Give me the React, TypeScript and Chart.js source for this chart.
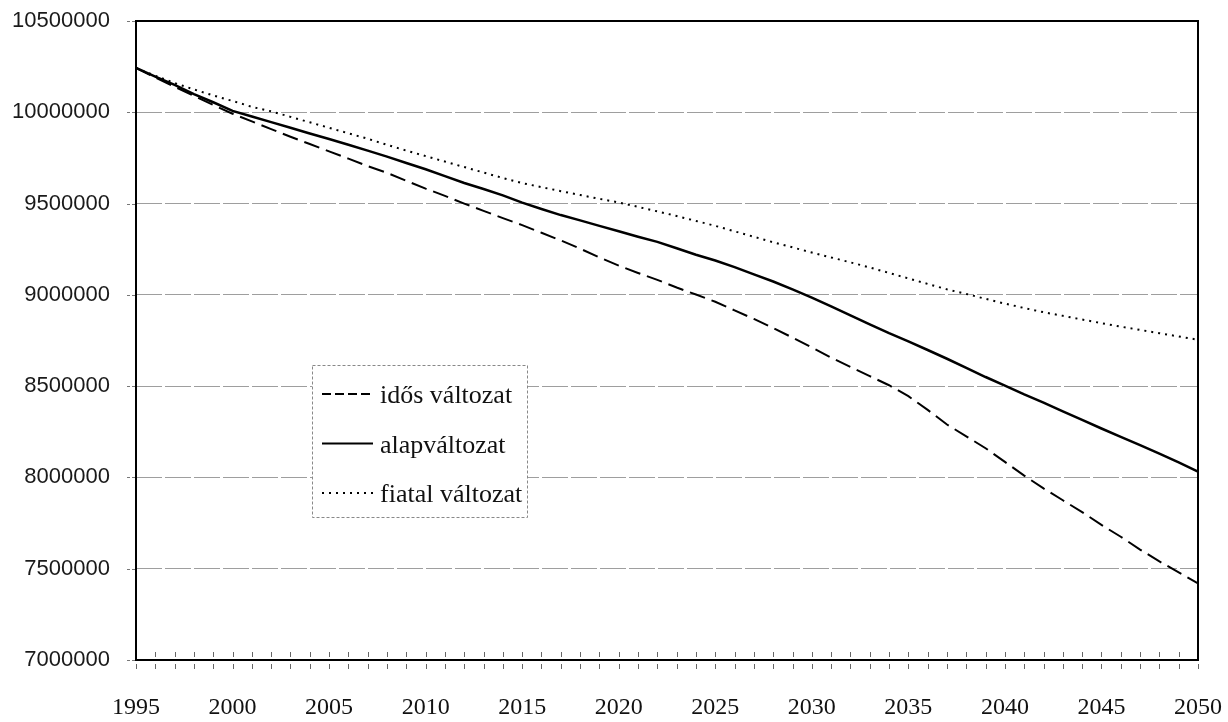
import React, { useEffect, useRef } from "react";
import { Chart, registerables } from "chart.js";

Chart.register(...registerables);

const YEARS = [
  1995, 1996, 1997, 1998, 1999, 2000, 2001, 2002, 2003, 2004,
  2005, 2006, 2007, 2008, 2009, 2010, 2011, 2012, 2013, 2014,
  2015, 2016, 2017, 2018, 2019, 2020, 2021, 2022, 2023, 2024,
  2025, 2026, 2027, 2028, 2029, 2030, 2031, 2032, 2033, 2034,
  2035, 2036, 2037, 2038, 2039, 2040, 2041, 2042, 2043, 2044,
  2045, 2046, 2047, 2048, 2049, 2050,
];

// idős változat (dashed)
const IDOS = [
  10243000, 10190000, 10140000, 10090000, 10040000, 9992000, 9950000, 9908000, 9866000, 9826000,
  9786000, 9746000, 9705000, 9668000, 9625000, 9582000, 9542000, 9500000, 9460000, 9420000,
  9382000, 9340000, 9298000, 9253000, 9205000, 9160000, 9120000, 9082000, 9040000, 9002000,
  8962000, 8915000, 8868000, 8818000, 8766000, 8712000, 8656000, 8605000, 8555000, 8505000,
  8445000, 8370000, 8290000, 8225000, 8160000, 8085000, 8010000, 7940000, 7875000, 7810000,
  7740000, 7675000, 7605000, 7540000, 7480000, 7420000,
];

// alapváltozat (solid)
const ALAP = [
  10243000, 10195000, 10150000, 10100000, 10055000, 10008000, 9977000, 9946000, 9915000, 9884000,
  9854000, 9822000, 9790000, 9757000, 9722000, 9688000, 9650000, 9613000, 9580000, 9545000,
  9505000, 9470000, 9437000, 9408000, 9378000, 9348000, 9318000, 9290000, 9255000, 9220000,
  9188000, 9152000, 9112000, 9073000, 9030000, 8985000, 8937000, 8888000, 8838000, 8790000,
  8745000, 8698000, 8650000, 8600000, 8550000, 8503000, 8455000, 8410000, 8362000, 8315000,
  8268000, 8222000, 8177000, 8130000, 8082000, 8032000,
];

// fiatal változat (dotted)
const FIATAL = [
  10243000, 10200000, 10160000, 10125000, 10092000, 10062000, 10030000, 10005000, 9975000, 9945000,
  9915000, 9885000, 9855000, 9822000, 9790000, 9760000, 9730000, 9700000, 9670000, 9640000,
  9612000, 9590000, 9568000, 9547000, 9526000, 9506000, 9482000, 9457000, 9432000, 9405000,
  9378000, 9348000, 9318000, 9288000, 9260000, 9232000, 9205000, 9178000, 9150000, 9120000,
  9090000, 9060000, 9030000, 9005000, 8978000, 8952000, 8928000, 8905000, 8885000, 8865000,
  8845000, 8826000, 8808000, 8790000, 8772000, 8754000,
];

const SERIES_LABELS = ["idős változat", "alapváltozat", "fiatal változat"];

const Y_MIN = 7000000;
const Y_MAX = 10500000;
const Y_STEP = 500000;
const X_MIN = 1995;
const X_MAX = 2050;
const X_STEP = 5;

const LINE_DASH = [16, 7];
const LINE_DOT = [2, 5];
const LEGEND_DASH = [9, 4];
const LEGEND_DOT = [2, 5];

const toPoints = (vals: number[]) => YEARS.map((yr, i) => ({ x: yr, y: vals[i] }));

const overlayPlugin = {
  id: "frameTicksLegend",
  afterDatasetsDraw(chart: any) {
    const { ctx, chartArea: a, scales } = chart;
    const xs = scales.x;
    const ys = scales.y;
    ctx.save();

    // yearly tick marks crossing the x axis
    ctx.strokeStyle = "#666";
    ctx.lineWidth = 1;
    ctx.setLineDash([]);
    for (const yr of YEARS) {
      const px = Math.round(xs.getPixelForValue(yr)) + 0.5;
      ctx.beginPath();
      ctx.moveTo(px, a.bottom - 8);
      ctx.lineTo(px, a.bottom - 3);
      ctx.moveTo(px, a.bottom + 4);
      ctx.lineTo(px, a.bottom + 9);
      ctx.stroke();
    }

    // y tick marks left of the axis
    ctx.strokeStyle = "#777";
    ctx.setLineDash([3, 2]);
    for (const t of ys.ticks) {
      const py = Math.round(ys.getPixelForValue(t.value)) + 0.5;
      ctx.beginPath();
      ctx.moveTo(a.left - 9, py);
      ctx.lineTo(a.left - 1, py);
      ctx.stroke();
    }

    // plot frame
    ctx.setLineDash([]);
    ctx.strokeStyle = "#000";
    ctx.lineWidth = 2;
    ctx.strokeRect(a.left, a.top, a.right - a.left, a.bottom - a.top);

    // legend box
    const bx = a.left + 176;
    const by = a.top + 344;
    const bw = 215;
    const bh = 152;
    ctx.fillStyle = "#fff";
    ctx.fillRect(bx, by, bw, bh);
    ctx.strokeStyle = "#888";
    ctx.lineWidth = 1;
    ctx.setLineDash([3, 2]);
    ctx.strokeRect(bx + 0.5, by + 0.5, bw, bh);

    const dashes = [LEGEND_DASH, [], LEGEND_DOT];
    const rows = [by + 29, by + 78.5, by + 128];
    ctx.font = "26px 'Liberation Serif', serif";
    ctx.textAlign = "left";
    ctx.textBaseline = "alphabetic";
    SERIES_LABELS.forEach((label, i) => {
      const ry = rows[i];
      ctx.strokeStyle = "#000";
      ctx.lineWidth = 2;
      ctx.setLineDash(dashes[i]);
      ctx.beginPath();
      ctx.moveTo(bx + 10, ry);
      ctx.lineTo(bx + 61, ry);
      ctx.stroke();
      ctx.fillStyle = "#111";
      ctx.fillText(label, bx + 68, ry + 9);
    });
    ctx.restore();
  },
};

export default function App() {
  const canvasRef = useRef<HTMLCanvasElement | null>(null);

  useEffect(() => {
    if (!canvasRef.current) return;
    const chart = new Chart(canvasRef.current, {
      type: "line",
      data: {
        datasets: [
          {
            label: SERIES_LABELS[0],
            data: toPoints(IDOS),
            borderColor: "#000",
            borderWidth: 2,
            borderDash: LINE_DASH,
            pointRadius: 0,
            tension: 0,
            fill: false,
          },
          {
            label: SERIES_LABELS[1],
            data: toPoints(ALAP),
            borderColor: "#000",
            borderWidth: 2.5,
            pointRadius: 0,
            tension: 0,
            fill: false,
          },
          {
            label: SERIES_LABELS[2],
            data: toPoints(FIATAL),
            borderColor: "#000",
            borderWidth: 2,
            borderDash: LINE_DOT,
            pointRadius: 0,
            tension: 0,
            fill: false,
          },
        ],
      },
      options: {
        animation: false,
        responsive: true,
        maintainAspectRatio: false,
        layout: { padding: { left: 0, right: 30, top: 21, bottom: 0 } },
        plugins: {
          legend: { display: false },
          tooltip: { enabled: false },
        },
        scales: {
          x: {
            type: "linear",
            min: X_MIN,
            max: X_MAX,
            ticks: {
              stepSize: X_STEP,
              autoSkip: false,
              maxRotation: 0,
              padding: 0,
              color: "#111",
              font: { family: "'Liberation Serif', serif", size: 24 },
              callback: (v: any) => String(v),
            },
            grid: { display: false, drawTicks: true, tickLength: 33 },
            border: { display: false },
            afterFit: (scale: any) => {
              scale.height = 62;
            },
          },
          y: {
            min: Y_MIN,
            max: Y_MAX,
            ticks: {
              stepSize: Y_STEP,
              padding: 0,
              color: "#1a1a1a",
              font: { family: "'Liberation Sans', sans-serif", size: 22 },
              callback: (v: any) => String(v),
            },
            grid: {
              color: "#9e9e9e",
              lineWidth: 1,
              drawTicks: true,
              tickLength: 26,
              tickColor: "rgba(0,0,0,0)",
            },
            border: { display: false, dash: [26, 3] },
            afterFit: (scale: any) => {
              scale.width = 136;
            },
          },
        },
      },
      plugins: [overlayPlugin],
    });
    return () => chart.destroy();
  }, []);

  return (
    <div style={{ position: "fixed", left: 0, top: 0, width: 1228, height: 722, background: "#fff" }}>
      <canvas ref={canvasRef} />
    </div>
  );
}
